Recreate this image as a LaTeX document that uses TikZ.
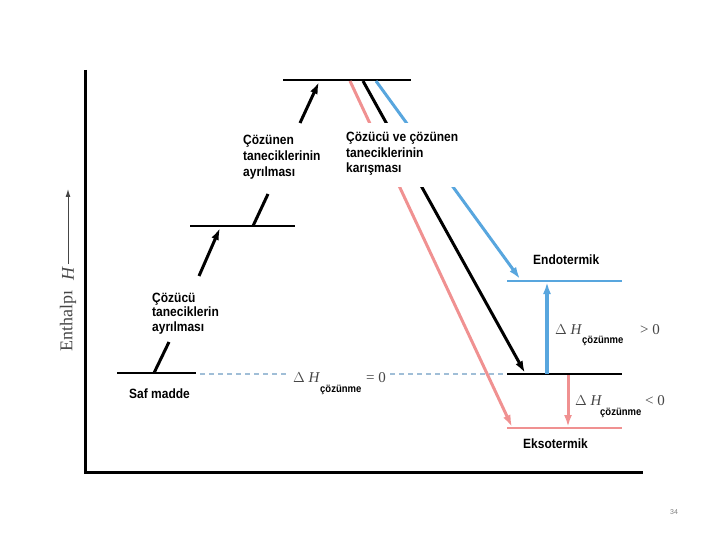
\documentclass[tikz,border=0pt]{standalone}
\usepackage{fontspec}
\usepackage{graphicx}
\setmainfont{Liberation Sans}
\newfontfamily\serf{Liberation Serif}
\usetikzlibrary{arrows.meta}
\definecolor{myblue}{RGB}{88,166,222}
\definecolor{mypink}{RGB}{240,145,145}
\definecolor{dashblue}{RGB}{160,190,215}
\definecolor{dgray}{RGB}{70,70,70}
\newcommand\tallt[1]{\scalebox{1}[1.12]{#1}}
\begin{document}
\begin{tikzpicture}[x=1pt,y=-1pt,
  lbl/.style={font=\fontsize{12}{15}\selectfont\bfseries, inner sep=0pt, anchor=base west},
  sub/.style={font=\fontsize{9.5}{11}\selectfont\bfseries, inner sep=0pt, anchor=base west},
  mth/.style={font=\serf\fontsize{15}{17}\selectfont, text=dgray, inner sep=0pt, anchor=base west},
  lvl/.style={line width=2.4pt},
  tip/.style={-{Latex[length=12pt,width=8pt]}},
  blk/.style={line width=3pt},
  diag/.style={line width=3pt, tip}]
\useasboundingbox (0,0) rectangle (720,540);

% axes
\coordinate (axtop) at (85,70);
\coordinate (axo) at (85,472);
\coordinate (axr) at (643,472);
\draw[line width=3pt] (axtop) -- (axo) -- (axr);

% enthalpy label
\node[rotate=90, font=\serf\fontsize{18}{20}\selectfont, text=dgray, inner sep=0pt] (enth) at (68,321) {Enthalp\i};
\node[rotate=90, font=\serf\itshape\fontsize{18}{20}\selectfont, text=dgray, inner sep=0pt] (hsym) at (68,274) {H};
\coordinate (ha) at (68,264);
\coordinate (hb) at (68,189);
\draw[dgray, line width=1pt, -{Latex[length=8pt,width=5pt]}] (ha) -- (hb);

% levels (left)
\coordinate (L0a) at (117,373); \coordinate (L0b) at (196,373);
\coordinate (L1a) at (190,226); \coordinate (L1b) at (295,226);
\coordinate (L2a) at (283,80);  \coordinate (L2b) at (411,80);
\draw[lvl] (L0a) -- (L0b);
\draw[lvl] (L1a) -- (L1b);
\draw[lvl] (L2a) -- (L2b);

% levels (right)
\coordinate (Ea) at (507,281); \coordinate (Eb) at (622,281);
\coordinate (Ma) at (507,374); \coordinate (Mb) at (622,374);
\coordinate (Xa) at (507,428); \coordinate (Xb) at (622,428);
\draw[myblue, line width=1.4pt] (Ea) -- (Eb);
\draw[lvl] (Ma) -- (Mb);
\draw[mypink, line width=1.8pt] (Xa) -- (Xb);

% dashed zero line
\coordinate (d1) at (200,374); \coordinate (d2) at (289,374);
\coordinate (d3) at (390,374); \coordinate (d4) at (505,374);
\draw[dashblue, line width=1.2pt, dash pattern=on 5pt off 4pt] (d1) -- (d2);
\draw[dashblue, line width=1.2pt, dash pattern=on 5pt off 4pt] (d3) -- (d4);
\node[mth] (dh0) at (293,382) {$\Delta$ \textit{H}};
\node[sub] (cz0) at (320,392) {\tallt{çözünme}};
\node[mth] (eq0) at (366,382) {= 0};

% step arrows
\coordinate (a1s) at (154,373); \coordinate (a1m) at (169,342);
\coordinate (a1n) at (199,276); \coordinate (a1e) at (220,228);
\draw[blk] (a1s) -- (a1m);
\draw[blk, tip] (a1n) -- (a1e);
\coordinate (a2s) at (253,226); \coordinate (a2m) at (268,194);
\coordinate (a2n) at (300,123); \coordinate (a2e) at (319,82);
\draw[blk] (a2s) -- (a2m);
\draw[blk, tip] (a2n) -- (a2e);

% diagonal arrows
\coordinate (ps) at (350,81); \coordinate (pe) at (512,427);
\coordinate (ks) at (363,81); \coordinate (ke) at (525,373);
\coordinate (bs) at (376,81); \coordinate (be) at (520,279);
\draw[diag, mypink] (ps) -- (pe);
\draw[diag, black] (ks) -- (ke);
\draw[diag, myblue] (bs) -- (be);

% labels
\node[lbl] (sm) at (129,398) {\tallt{Saf madde}};
\node[lbl] (l1a) at (152,302) {\tallt{Çözücü}};
\node[lbl] (l1b) at (152,316.5) {\tallt{taneciklerin}};
\node[lbl] (l1c) at (152,331) {\tallt{ayrılması}};
\node[lbl] (l2a) at (243,144.5) {\tallt{Çözünen}};
\node[lbl] (l2b) at (243,160.8) {\tallt{taneciklerinin}};
\node[lbl] (l2c) at (243,177) {\tallt{ayrılması}};
\fill[white] (343,123) rectangle (472,187);
\node[lbl] (l3a) at (346,141.5) {\tallt{Çözücü ve çözünen}};
\node[lbl] (l3b) at (346,157.5) {\tallt{taneciklerinin}};
\node[lbl] (l3c) at (346,173) {\tallt{karışması}};

% right side vertical arrows
\coordinate (ua) at (547,374); \coordinate (ub) at (547,282);
\draw[myblue, line width=3.6pt, tip] (ua) -- (ub);
\coordinate (da) at (568,375); \coordinate (db) at (568,427);
\draw[mypink, line width=3pt, tip] (da) -- (db);

\node[lbl] (endo) at (533,264) {\tallt{Endotermik}};
\node[lbl] (ekso) at (523,448) {\tallt{Eksotermik}};
\node[mth] (dh1) at (555,334) {$\Delta$ \textit{H}};
\node[sub] (cz1) at (582,343) {\tallt{çözünme}};
\node[mth] (gt) at (640,334) {> 0};
\node[mth] (dh2) at (575,405) {$\Delta$ \textit{H}};
\node[sub] (cz2) at (600,415) {\tallt{çözünme}};
\node[mth] (lt) at (645,405) {< 0};

\node[font=\fontsize{7}{8}\selectfont, text=gray, inner sep=0pt] (pg) at (674,512) {34};
\end{tikzpicture}
\end{document}
